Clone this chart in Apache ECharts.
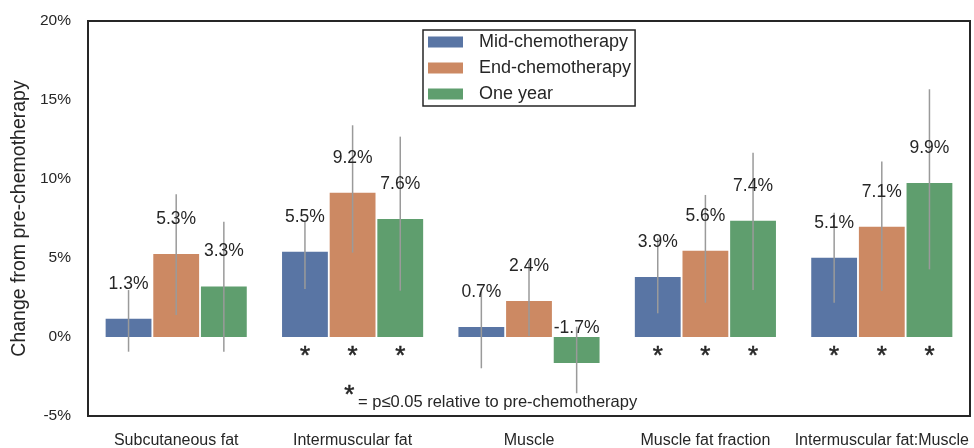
<!DOCTYPE html>
<html><head><meta charset="utf-8">
<script src="https://cdn.jsdelivr.net/npm/echarts@6/dist/echarts.min.js"></script>
<style>html,body{margin:0;padding:0;background:#fff}#c{width:974px;height:448px}</style>
</head><body><div id="c"></div>
<script>
const categories = ['Subcutaneous fat','Intermuscular fat','Muscle','Muscle fat fraction','Intermuscular fat:Muscle'];
const seriesNames = ['Mid-chemotherapy','End-chemotherapy','One year'];
const yTicks = ['-5%','0%','5%','10%','15%','20%'];

const midValues = [1.15, 5.4, 0.63, 3.8, 5.02];
const endValues = [5.25, 9.13, 2.28, 5.46, 6.98];
const oneYearValues = [3.2, 7.47, -1.65, 7.36, 9.75];

const midLabels = ['1.3%','5.5%','0.7%','3.9%','5.1%'];
const endLabels = ['5.3%','9.2%','2.4%','5.6%','7.1%'];
const oneYearLabels = ['3.3%','7.6%','-1.7%','7.4%','9.9%'];

const midLow = [-0.93, 3.04, -1.98, 1.5, 2.17];
const midHigh = [2.97, 7.3, 3.08, 6.25, 7.87];
const endLow = [1.39, 5.34, 0.06, 2.17, 2.93];
const endHigh = [9.03, 13.4, 4.7, 8.99, 11.1];
const oneYearLow = [-0.93, 2.93, -3.56, 2.97, 4.28];
const oneYearHigh = [7.3, 12.68, 0.65, 11.66, 15.68];

const midSig = [0,1,0,1,1];
const endSig = [0,1,0,1,1];
const oneYearSig = [0,1,0,1,1];

const colors = ['#5975a4','#cc8963','#5f9e6e'];
const FONT = '"Liberation Sans", Arial, sans-serif';
const TXT = '#262626';

const values = [midValues, endValues, oneYearValues];
const textLabels = [midLabels, endLabels, oneYearLabels];
const lows = [midLow, endLow, oneYearLow];
const highs = [midHigh, endHigh, oneYearHigh];
const sigs = [midSig, endSig, oneYearSig];

const chart = echarts.init(document.getElementById('c'), null, {renderer:'canvas'});

function barSeries(k){
  return {
    type:'bar', name: seriesNames[k], data: values[k],
    barCategoryGap:'20%', barGap:'4%',
    itemStyle:{color: colors[k]}, z:2
  };
}
function overlay(k){
  return {
    type:'custom', name: seriesNames[k]+'_overlay', z:5, silent:true,
    data: categories.map((c,i)=>[i, values[k][i], lows[k][i], highs[k][i], sigs[k][i]]),
    encode:{x:0, y:[1,2,3]},
    renderItem(params, api){
      const i = api.value(0);
      const band = api.size([1,0])[0];
      const group = band*0.8;
      const bw = group/(3+2*0.04);
      const x = api.coord([i,0])[0] - group/2 + k*bw*1.04 + bw/2;
      const yv = api.coord([i, api.value(1)])[1];
      const yl = api.coord([i, api.value(2)])[1];
      const yh = api.coord([i, api.value(3)])[1];
      const y0 = api.coord([i,0])[1];
      const children = [
        {type:'line', shape:{x1:x,y1:yl,x2:x,y2:yh}, style:{stroke:'#9a9a9a', lineWidth:1.5}},
        {type:'text', x:x, y:yv-35, style:{text: textLabels[k][params.dataIndex], fontSize:17.5, fontFamily:FONT, fill:TXT, align:'center', verticalAlign:'middle'}}
      ];
      if (api.value(4)) children.push({type:'text', x:x, y:y0+20, style:{text:'*', fontSize:26, fontFamily:FONT, fill:TXT, align:'center', verticalAlign:'middle', stroke:TXT, lineWidth:0.5}});
      return {type:'group', children};
    }
  };
}

chart.setOption({
  animation:false,
  backgroundColor:'#fff',
  textStyle:{fontFamily:FONT},
  grid:{left:88, right:4, top:21, bottom:32, show:true, borderColor:'#262626', borderWidth:2, backgroundColor:'transparent', containLabel:false, outerBoundsMode:'none'},
  legend:{
    data: seriesNames, orient:'vertical', left:423, top:30,
    icon:'rect', itemWidth:35, itemHeight:11, itemGap:6,
    padding:[2,4,2,5], borderColor:'#262626', borderWidth:1.5, backgroundColor:'#fff',
    textStyle:{fontSize:18, fontFamily:FONT, color:TXT, lineHeight:20, padding:[0,0,0,11]}
  },
  xAxis:{
    type:'category', data: categories,
    axisLine:{show:false}, axisTick:{show:false}, splitLine:{show:false},
    axisLabel:{fontSize:16, fontFamily:FONT, color:TXT, margin:17, interval:0}
  },
  yAxis:{
    type:'value', min:-5, max:20, interval:5,
    name:'Change from pre-chemotherapy', nameLocation:'middle', nameGap:58, nameMoveOverlap:false,
    nameTextStyle:{fontSize:19.5, fontFamily:FONT, color:TXT},
    axisLine:{show:false}, axisTick:{show:false}, splitLine:{show:false},
    axisLabel:{fontSize:15.5, fontFamily:FONT, color:TXT, margin:17,
      formatter:(v)=>{ const t = yTicks.find(s=>parseFloat(s)===v); return t!==undefined ? t : v+'%'; }}
  },
  series:[barSeries(0), barSeries(1), barSeries(2), overlay(0), overlay(1), overlay(2)],
  graphic:[
    {type:'text', left:344, top:383, style:{text:'*', fontSize:26, fontFamily:FONT, fill:TXT, stroke:TXT, lineWidth:0.5}},
    {type:'text', left:358, top:394, style:{text:'= p≤0.05 relative to pre-chemotherapy', fontSize:16.5, fontFamily:FONT, fill:TXT}}
  ]
});
</script></body></html>
